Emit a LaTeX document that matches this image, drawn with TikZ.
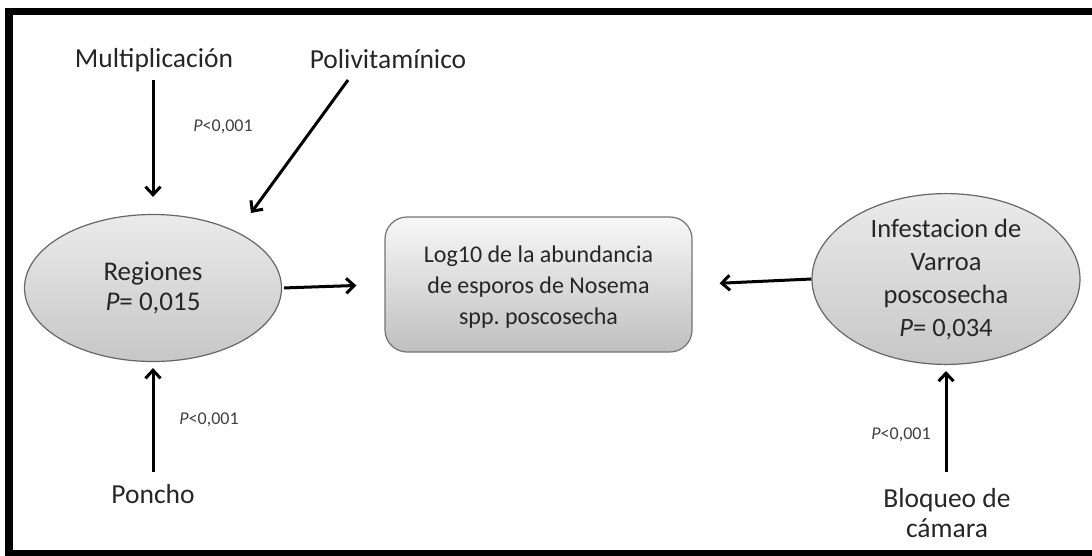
\documentclass[tikz,border=0pt]{standalone}
\usepackage{fontspec}
\setmainfont{Carlito}
\usetikzlibrary{arrows.meta,shapes.geometric}
\begin{document}
\frenchspacing
\begin{tikzpicture}[x=1pt,y=-1pt,
  lbl/.style={font=\fontsize{27.5}{30}\selectfont, text=black!85, align=center, inner sep=0pt},
  plbl/.style={font=\fontsize{18}{20}\selectfont, text=black!75, inner sep=0pt},
  oval/.style={ellipse, draw=black!60, line width=1.2pt, top color=black!8, bottom color=black!22,
    align=center, inner sep=0pt, text=black!85},
  target/.style={rectangle, rounded corners=22pt, draw=black!55, line width=1.2pt,
    top color=black!3, bottom color=black!25},
  targettext/.style={align=center, inner sep=0pt, font=\fontsize{24}{31}\selectfont, text=black!85},
  arr/.style={-{Straight Barb[length=8pt,width=15pt,line width=3pt]}, line width=3pt}
]
\useasboundingbox (0,0) rectangle (1092,555);
\begin{scope}
\clip (0,0) rectangle (1092,555);
% outer frame (right side runs off the page)
\draw[line width=7.5pt] (9,11.5) rectangle (1110,554);
\end{scope}

% central outcome
\node[target, minimum width=307pt, minimum height=135pt] (box) at (538.5,284.5) {};
\node[targettext] (boxtext) at (538.5,287)
  {Log10 de la abundancia\\de esporos de Nosema\\spp. poscosecha};

% explanatory variables
\node[oval, minimum width=257pt, minimum height=147pt, font=\fontsize{27}{30}\selectfont] (reg) at (153,288)
  {Regiones\\\textit{P}= 0,015};
\node[oval, minimum width=268pt, minimum height=164pt, font=\fontsize{26.5}{33}\selectfont] (var) at (946,279)
  {Infestacion de\\Varroa\\poscosecha\\\textit{P}= 0,034};

% grouping factors
\node[lbl] (mult) at (154,60) {Multiplicación};
\node[lbl] (poli) at (388,59) {Polivitamínico};
\node[lbl] (poncho) at (153,494) {Poncho};
\node[lbl] (bloq) at (947,513) {Bloqueo de\\cámara};

% significance labels
\node[plbl] (p1) at (223,127) {\textit{P}<0,001};
\node[plbl] (p2) at (209,420) {\textit{P}<0,001};
\node[plbl] (p3) at (901,435) {\textit{P}<0,001};

% arrow start points
\coordinate (multA) at (153,80);
\coordinate (ponA) at (153,472);
\coordinate (bloA) at (946,472);
\coordinate (poliA) at (348,80);
\coordinate (poliB) at (251,213);

% connectors
\draw[arr, shorten >=17pt] (multA) -- (reg.north);
\draw[arr, shorten >=6pt] (ponA) -- (reg.south);
\draw[arr] (poliA) -- (poliB);
\draw[arr, shorten >=6pt] (bloA) -- (var.south);
\draw[arr, shorten <=2pt, shorten >=28pt] (reg.east) -- (box.west);
\draw[arr, shorten >=27pt] (var.west) -- (box.east);
\end{tikzpicture}
\end{document}
